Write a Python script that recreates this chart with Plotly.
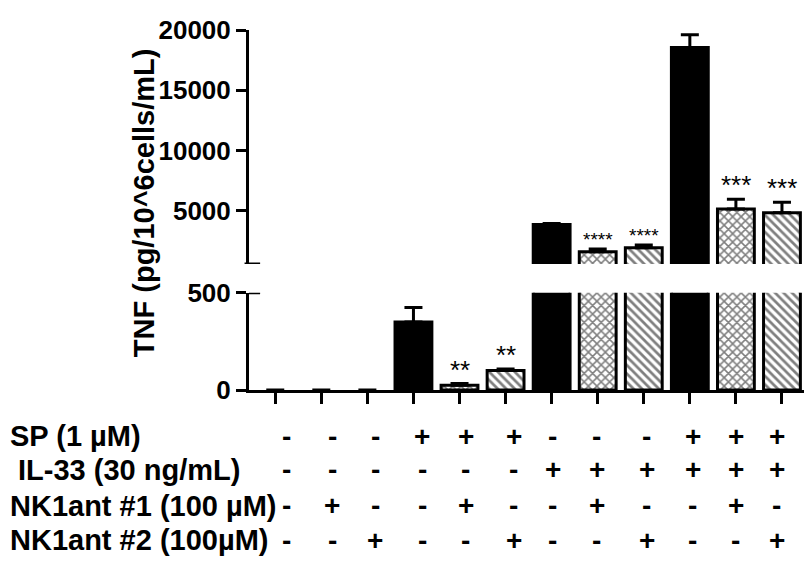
import plotly.graph_objects as go

# treatment groups (12 bars) and TNF readings
groups = ["G%d" % i for i in range(1, 13)]
tnf = [0, 0, 0, 350, 25, 100, 3870, 1620, 1940, 18550, 5160, 4840]
tnf_err = [0, 0, 0, 75, 8, 8, 80, 230, 240, 1050, 800, 880]
patterns = ["", "", "", "", "x", "\\", "", "x", "\\", "", "x", "\\"]
stars = ["", "", "", "", "**", "**", "", "****", "****", "", "***", "***"]

row_labels = ["SP (1 µM)", "&nbsp;IL-33 (30 ng/mL)", "NK1ant #1 (100 µM)", "NK1ant #2 (100µM)"]
sp = ["-", "-", "-", "+", "+", "+", "-", "-", "-", "+", "+", "+"]
il33 = ["-", "-", "-", "-", "-", "-", "+", "+", "+", "+", "+", "+"]
nk1 = ["-", "+", "-", "-", "+", "-", "-", "+", "-", "-", "+", "-"]
nk2 = ["-", "-", "+", "-", "-", "+", "-", "-", "+", "-", "-", "+"]
rows = [sp, il33, nk1, nk2]

low_ticks = [0, 500]
high_ticks = [5000, 10000, 15000, 20000]

FONT = "Liberation Sans, Arial, sans-serif"

# the +/- columns in the original sit a little off the bar centres
col_shift = [11, 11, 8, 9, 6, 8, 1, -1, 3, 3, 0, -5]


def bar_trace(yaxis):
    return go.Bar(
        x=groups, y=tnf, yaxis=yaxis, width=0.8,
        marker=dict(
            color="black",
            # no outline on the empty (zero) bars
            line=dict(color="black", width=[3 if v > 0 else 0 for v in tnf]),
            pattern=dict(shape=patterns, bgcolor="white", fgcolor="black",
                         size=6, solidity=0.45),
        ),
        error_y=dict(type="data", array=tnf_err, arrayminus=[0] * 12,
                     symmetric=False, color="black", thickness=3, width=9),
        showlegend=False,
    )


fig = go.Figure([bar_trace("y"), bar_trace("y2")])

axis_font = dict(family=FONT, size=26, color="black")
yax = dict(ticks="outside", ticklen=10, tickwidth=3, tickcolor="black",
           showline=True, linewidth=3, linecolor="black", showgrid=False,
           zeroline=False, tickfont=axis_font)
# page body has an 8px margin, so the figure is 8px smaller than the window
fig.update_layout(
    width=804, height=556,
    margin=dict(l=241, r=7, t=11, b=174),
    plot_bgcolor="white", paper_bgcolor="white",
    barmode="overlay",
    xaxis=dict(type="category", range=[-0.57, 11.5], showticklabels=False,
               ticks="outside", ticklen=11, tickwidth=3, tickcolor="black",
               showline=True, linewidth=3, linecolor="black", showgrid=False,
               zeroline=False),
    yaxis=dict(domain=[0, 0.27], range=[0, 500], tickvals=low_ticks,
               ticktext=["<b>%d</b>" % v for v in low_ticks], **yax),
    yaxis2=dict(domain=[0.35, 1], range=[600, 20000], anchor="x",
                tickvals=high_ticks,
                ticktext=["<b>%d</b>" % v for v in high_ticks], **yax),
)

# caps at the axis break
fig.add_shape(type="line", xref="paper", yref="y2", x0=-0.008, x1=0.02,
              y0=600, y1=600, line=dict(color="black", width=3))
fig.add_shape(type="line", xref="paper", yref="y", x0=0, x1=0.02,
              y0=500, y1=500, line=dict(color="black", width=3))

# significance stars
for i, (v, e, s) in enumerate(zip(tnf, tnf_err, stars)):
    if not s:
        continue
    small = s == "****"
    fig.add_annotation(x=i, xref="x", y=v + e, yref="y2" if v > 500 else "y",
                       text=s, showarrow=False, yanchor="bottom", yshift=-3,
                       font=dict(family=FONT, size=19 if small else 26, color="black"))

# y-axis title
fig.add_annotation(xref="paper", yref="paper", x=-0.19, y=0.52,
                   xanchor="center", yanchor="middle",
                   text="<b>TNF (pg/10^6cells/mL)</b>",
                   textangle=-90, showarrow=False,
                   font=dict(family=FONT, size=29, color="black"))

# treatment table below the axis
row_y = [-0.129, -0.221, -0.321, -0.418]
for label, ry, signs in zip(row_labels, row_y, rows):
    fig.add_annotation(xref="paper", yref="paper", x=-0.434, y=ry,
                       xanchor="left", yanchor="middle",
                       text="<b>" + label + "</b>", showarrow=False,
                       font=dict(family=FONT, size=29, color="black"))
    for i, sg in enumerate(signs):
        fig.add_annotation(x=i, xref="x", yref="paper", y=ry, xshift=col_shift[i],
                           yanchor="middle", text="<b>" + sg + "</b>",
                           showarrow=False, font=dict(family=FONT, size=28, color="black"))

fig.write_html("out.html")
